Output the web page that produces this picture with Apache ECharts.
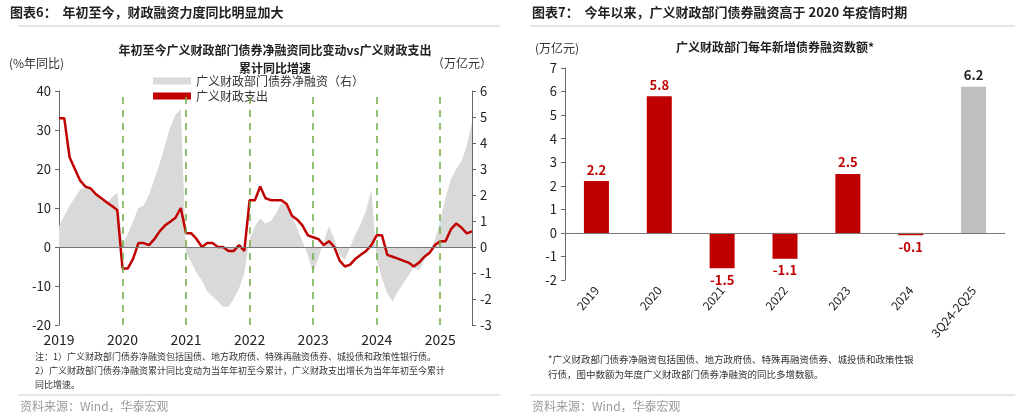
<!DOCTYPE html>
<html>
<head>
<meta charset="utf-8">
<script src="https://cdn.jsdelivr.net/npm/echarts@6/dist/echarts.min.js"></script>
<style>html,body{margin:0;padding:0;background:#fff}#c{width:1024px;height:418px}</style>
</head>
<body>
<div id="c"></div>
<script>
// 左图：月度，2019-01 至 2025-07
const months = []
for (let y = 2019; y <= 2025; y++) {
  for (let m = 1; m <= 12; m++) {
    if (y === 2025 && m > 7) break
    months.push(y + '-' + (m < 10 ? '0' + m : m))
  }
}
const spendYoy = [
  33, 33, 23, 20, 17, 15.5, 15, 13.5, 12.5, 11.5, 10.5, 9.5,
  -5.5, -5.5, -3, 1, 1, 0.5, 2, 4, 5.5, 6.5, 7.5, 10,
  3.5, 3.5, 2, 0, 1, 1, 0, 0, -1, -1, 0.5, -1,
  12, 12, 15.5, 12.5, 12, 12, 12, 11, 8, 7, 5.5, 3,
  2.5, 2, 0.5, 1.5, 0, -3.5, -5, -4.5, -3, -2, -1, 0.5,
  3, 3, -2, -2.5, -3, -3.5, -4, -5, -4, -2.5, -1.5, 0.5,
  1.5, 1.5, 4.5, 6, 5, 3.5, 4
]
const netFinancing = [
  0.8, 1.2, 1.6, 1.9, 2.2, 2.3, 2.2, 2.0, 1.8, 1.7, 1.9, 2.1,
  0.1, 0.5, 1.0, 1.5, 1.6, 2.0, 2.6, 3.2, 3.9, 4.6, 5.1, 5.3,
  -0.2, -0.6, -1.0, -1.3, -1.7, -1.9, -2.1, -2.3, -2.3, -2.0, -1.6, -1.0,
  0.3, 0.8, 1.1, 0.9, 1.0, 1.3, 1.7, 1.6, 1.2, 0.7, 0.2, -0.3,
  -1.0, -0.4, 0.2, 0.8, 0.3, -0.3, -0.5, 0.0, 0.5, 0.9, 1.4, 2.2,
  -0.5, -1.2, -1.8, -2.1, -1.7, -1.4, -1.1, -0.8, -0.9, -0.5, -0.2, 0.3,
  1.0, 1.9, 2.6, 3.0, 3.3, 3.9, 4.8
]
const yearLines = ['2020-01', '2021-01', '2022-01', '2023-01', '2024-01', '2025-01']

// 右图
const barCats = ['2019', '2020', '2021', '2022', '2023', '2024', '3Q24-2Q25']
const barVals = [2.2, 5.8, -1.5, -1.1, 2.5, -0.1, 6.2]

const RED = '#c00000'
const FONT = 'Noto Sans CJK SC'
const chart = echarts.init(document.getElementById('c'))

const txt = (left, top, text, style) => ({
  type: 'text', left: left, top: top,
  style: Object.assign({ text: text, font: '11px "' + FONT + '"', fill: '#333' }, style || {})
})

chart.setOption({
  textStyle: { fontFamily: FONT },
  animation: false,
  title: [
    { text: '年初至今广义财政部门债券净融资同比变动vs广义财政支出\n累计同比增速', left: 270, top: 36, textAlign: 'center',
      textStyle: { fontSize: 12, fontWeight: 'bold', color: '#222', lineHeight: 18 } },
    { text: '广义财政部门每年新增债券融资数额*', left: 770, top: 36, textAlign: 'center',
      textStyle: { fontSize: 12, fontWeight: 'bold', color: '#222' } }
  ],
  legend: {
    left: 148, top: 70, orient: 'vertical', itemWidth: 38, itemHeight: 7, itemGap: 3,
    textStyle: { fontSize: 12, color: '#333' },
    data: [
      { name: '广义财政部门债券净融资（右）', icon: 'rect', itemStyle: { color: '#d9d9d9' } },
      { name: '广义财政支出', icon: 'rect', itemStyle: { color: RED } }
    ]
  },
  grid: [
    { left: 59, right: 552, top: 91, bottom: 93 },
    { left: 565, right: 19, top: 68, bottom: 138 }
  ],
  xAxis: [
    { gridIndex: 0, type: 'category', data: months, boundaryGap: false,
      axisLine: { show: false }, axisTick: { show: false },
      axisLabel: { fontSize: 14, color: '#222', margin: 8,
        interval: (i, v) => v.endsWith('-01'),
        formatter: v => v.slice(0, 4) } },
    { gridIndex: 1, type: 'category', data: barCats,
      axisLine: { show: false }, axisTick: { show: false },
      axisLabel: { fontSize: 12, color: '#222', rotate: 50, margin: 8 } }
  ],
  yAxis: [
    { gridIndex: 0, min: -20, max: 40, interval: 10, name: '(%年同比)', nameLocation: 'end',
      nameGap: 22, nameTextStyle: { fontSize: 12, color: '#333', align: 'left', padding: [0, 0, 0, -50] },
      axisLine: { show: true, lineStyle: { color: '#666' } }, axisTick: { show: true, length: 4 },
      axisLabel: { fontSize: 13, color: '#222' }, splitLine: { show: false } },
    { gridIndex: 0, min: -3, max: 6, interval: 1, position: 'right', name: '（万亿元）',
      nameGap: 22, nameTextStyle: { fontSize: 12, color: '#333', align: 'right', padding: [0, -20, 0, 0] },
      axisLine: { show: true, lineStyle: { color: '#666' } }, axisTick: { show: true, length: 4 },
      axisLabel: { fontSize: 13, color: '#222' }, splitLine: { show: false } },
    { gridIndex: 1, min: -2, max: 7, interval: 1, name: '(万亿元)',
      nameGap: 14, nameTextStyle: { fontSize: 12, color: '#333', align: 'left', padding: [0, 0, 0, -30] },
      axisLine: { show: true, lineStyle: { color: '#666' } }, axisTick: { show: true, length: 4 },
      axisLabel: { fontSize: 13, color: '#222' }, splitLine: { show: false } }
  ],
  series: [
    { name: '广义财政部门债券净融资（右）', type: 'line', xAxisIndex: 0, yAxisIndex: 1, data: netFinancing,
      symbol: 'none', lineStyle: { width: 0 }, areaStyle: { color: '#d9d9d9', opacity: 1 }, z: 1 },
    { name: '广义财政支出', type: 'line', xAxisIndex: 0, yAxisIndex: 0, data: spendYoy,
      symbol: 'none', lineStyle: { width: 2.5, color: RED }, itemStyle: { color: RED }, z: 3,
      markLine: {
        silent: true, symbol: 'none', label: { show: false },
        data: [{ yAxis: 0, lineStyle: { color: '#777', type: 'solid', width: 1 } }]
          .concat(yearLines.map(v => ({ xAxis: v, lineStyle: { color: '#70ad47', type: [7, 6], width: 1.5 } })))
      } },
    { type: 'bar', xAxisIndex: 1, yAxisIndex: 2, barWidth: 25,
      data: barVals.map((v, i) => ({
        value: v,
        itemStyle: { color: i === barVals.length - 1 ? '#bfbfbf' : RED },
        label: { show: true, position: v >= 0 ? 'top' : 'bottom', fontSize: 13, fontWeight: 'bold',
          color: i === barVals.length - 1 ? '#222' : RED }
      })),
      markLine: { silent: true, symbol: 'none', label: { show: false },
        data: [{ yAxis: 0, lineStyle: { color: '#777', type: 'solid', width: 1 } }] } }
  ],
  graphic: [
    txt(10, 6, '图表6：  年初至今，财政融资力度同比明显加大', { font: 'bold 13px "' + FONT + '"', fill: '#222' }),
    txt(532, 6, '图表7：  今年以来，广义财政部门债券融资高于 2020 年疫情时期', { font: 'bold 13px "' + FONT + '"', fill: '#222' }),
    { type: 'line', shape: { x1: 18, y1: 26, x2: 500, y2: 26 }, style: { stroke: '#ccc', lineWidth: 1 } },
    { type: 'line', shape: { x1: 530, y1: 26, x2: 1015, y2: 26 }, style: { stroke: '#ccc', lineWidth: 1 } },
    txt(35, 352, '注：1）广义财政部门债券净融资包括国债、地方政府债、特殊再融资债券、城投债和政策性银行债。', { font: '9px "' + FONT + '"' }),
    txt(35, 366, '2）广义财政部门债券净融资累计同比变动为当年年初至今累计，广义财政支出增长为当年年初至今累计', { font: '9px "' + FONT + '"' }),
    txt(35, 380, '同比增速。', { font: '9px "' + FONT + '"' }),
    txt(548, 355, '*广义财政部门债券净融资包括国债、地方政府债、特殊再融资债券、城投债和政策性银', { font: '9.5px "' + FONT + '"' }),
    txt(548, 370, '行债，图中数额为年度广义财政部门债券净融资的同比多增数额。', { font: '9.5px "' + FONT + '"' }),
    { type: 'line', shape: { x1: 18, y1: 395, x2: 500, y2: 395 }, style: { stroke: '#ccc', lineWidth: 1 } },
    { type: 'line', shape: { x1: 530, y1: 395, x2: 1015, y2: 395 }, style: { stroke: '#ccc', lineWidth: 1 } },
    txt(20, 400, '资料来源：Wind，华泰宏观', { font: '12px "' + FONT + '"', fill: '#999' }),
    txt(532, 400, '资料来源：Wind，华泰宏观', { font: '12px "' + FONT + '"', fill: '#999' })
  ]
})
</script>
</body>
</html>
